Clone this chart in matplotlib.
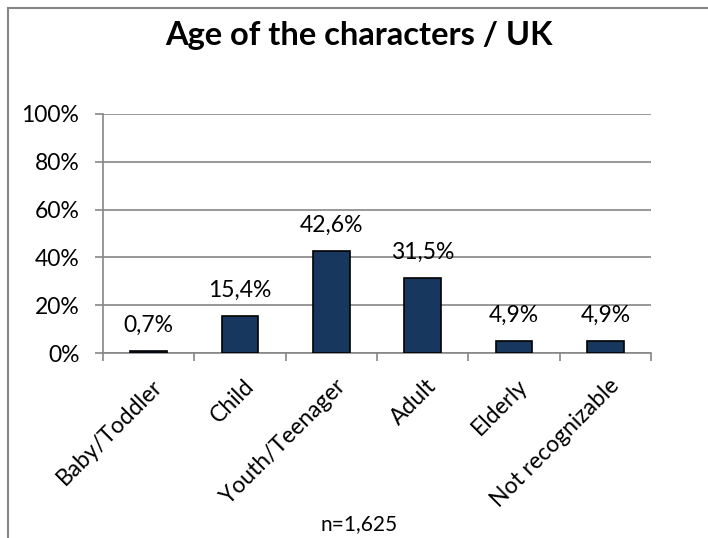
import matplotlib.pyplot as plt
from matplotlib.patches import Rectangle
from matplotlib.transforms import ScaledTranslation

# Data
categories = ['Baby/Toddler', 'Child', 'Youth/Teenager', 'Adult', 'Elderly', 'Not recognizable']
values = [0.7, 15.4, 42.6, 31.5, 4.9, 4.9]
labels = ['0,7%', '15,4%', '42,6%', '31,5%', '4,9%', '4,9%']
yticks = [0, 20, 40, 60, 80, 100]

plt.rcParams['font.family'] = ['Lato', 'DejaVu Sans']

fig = plt.figure(figsize=(7.08, 5.38), dpi=100)
ax = fig.add_axes([103 / 708, 1 - 353 / 538, 548 / 708, 239 / 538])

# Outer chart border (Excel style), right and bottom sides cut off
fig.patches.append(Rectangle((8 / 708, -0.1), 1.0, 1.1 - 8 / 538,
                             transform=fig.transFigure, fill=False,
                             edgecolor='#868686', linewidth=1.5))

x = range(len(categories))
ax.bar(x, values, width=0.405, color='#17375e', edgecolor='black', linewidth=1.2, zorder=3)

for xi, v, lab in zip(x, values, labels):
    ax.annotate(lab, (xi, v), xytext=(0, 19), textcoords='offset pixels',
                ha='center', va='baseline', fontsize=16.5)

ax.set_xlim(-0.5, len(categories) - 0.5)
ax.set_ylim(0, 100)
ax.set_yticks(yticks)
ax.set_yticklabels([f'{t}%' for t in yticks], fontsize=16.5)
ax.yaxis.grid(True, color='#868686', linewidth=1.2, zorder=0)

# Ticks between categories, labels at centers
ax.set_xticks([i - 0.5 for i in range(len(categories) + 1)])
ax.set_xticklabels([])
ax.set_xticks(list(x), minor=True)
ax.set_xticklabels(categories, minor=True, rotation=45, ha='right', va='top',
                   rotation_mode='anchor', fontsize=16.5)
ax.tick_params(axis='x', which='minor', length=0, pad=16)
ax.tick_params(axis='x', which='major', length=6, color='#868686', width=1.2)
ax.tick_params(axis='y', length=6, color='#868686', width=1.2, pad=11)
shift = ScaledTranslation(3 / 100, 0, fig.dpi_scale_trans)
for lbl in ax.get_xticklabels(minor=True):
    lbl.set_transform(lbl.get_transform() + shift)

for side in ['top', 'right']:
    ax.spines[side].set_visible(False)
for side in ['left', 'bottom']:
    ax.spines[side].set_color('#868686')
    ax.spines[side].set_linewidth(1.2)

fig.text(359 / 708, 1 - 45 / 538, 'Age of the characters / UK', ha='center', va='baseline',
         fontsize=23.5, fontweight='bold')
fig.text(359 / 708, 1 - 530 / 538, 'n=1,625', ha='center', va='baseline', fontsize=15)

fig.savefig('out.png', dpi=100)
